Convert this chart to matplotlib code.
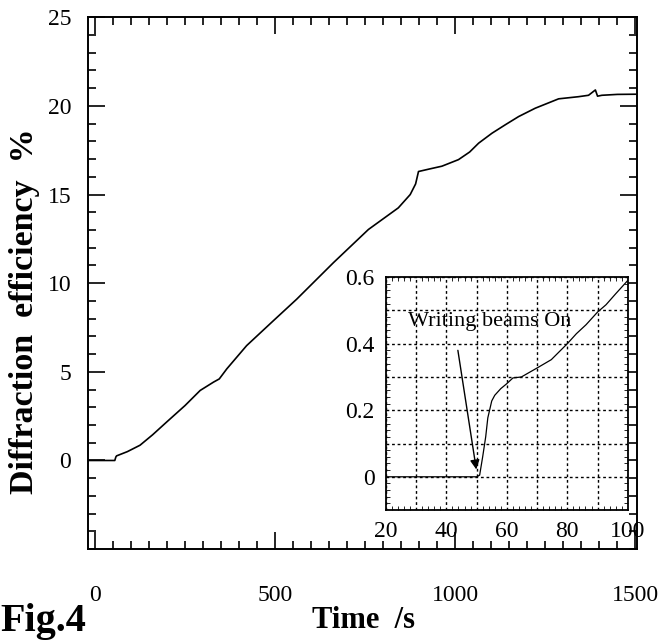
import matplotlib
matplotlib.use("Agg")
import matplotlib.pyplot as plt
from matplotlib.ticker import MultipleLocator

plt.rcParams['font.family'] = ['Liberation Serif', 'DejaVu Serif']

# main curve: time (s) vs diffraction efficiency (%)
t_main = [-20, 55, 58, 60, 90, 125, 160, 199, 250, 292, 329, 345, 366, 421, 495,
          560, 662, 759, 842, 875, 890, 898, 930, 963, 1009, 1040, 1065, 1102,
          1140, 1176, 1222, 1287, 1342, 1370, 1389, 1395, 1407, 1450, 1500]
eff_main = [0, 0, 0.2, 0.26, 0.5, 0.86, 1.45, 2.17, 3.1, 3.95, 4.42, 4.6, 5.17, 6.48, 7.88,
            9.1, 11.16, 13.03, 14.25, 15.0, 15.6, 16.3, 16.45, 16.6, 16.97, 17.4, 17.9, 18.46,
            18.95, 19.4, 19.87, 20.4, 20.52, 20.6, 20.9, 20.55, 20.6, 20.65, 20.66]

# inset: first 100 s
t_inset = [20, 50, 51, 52, 53, 53.7, 55, 56, 58, 60, 62, 64.8, 70, 74.7, 80, 83, 86.2,
           90, 92.8, 96, 100]
eff_inset = [0, 0, 0.005, 0.06, 0.12, 0.177, 0.228, 0.245, 0.265, 0.28, 0.297, 0.30, 0.327,
             0.352, 0.40, 0.43, 0.457, 0.495, 0.517, 0.55, 0.59]

fig = plt.figure(figsize=(6.7, 6.4), dpi=100)
ax = fig.add_axes([0.131, 0.142, 0.820, 0.831])
ax.plot(t_main, eff_main, color='black', lw=1.2)
ax.set_xlim(-20, 1505)
ax.set_ylim(-5, 25)
ax.xaxis.set_major_locator(MultipleLocator(500))
ax.xaxis.set_minor_locator(MultipleLocator(50))
ax.yaxis.set_major_locator(MultipleLocator(5))
ax.yaxis.set_minor_locator(MultipleLocator(1))
ax.tick_params(which='both', direction='in', top=True, right=True, width=1.2, labelsize=17)
ax.tick_params(which='major', length=12)
ax.tick_params(which='minor', length=6)
ax.tick_params(axis='x', pad=26)
ax.tick_params(axis='y', pad=12)
ax.set_yticks([0, 5, 10, 15, 20, 25])
for s in ax.spines.values():
    s.set_linewidth(1.4)

fig.text(0.037, 0.514, "Diffraction  efficiency  %", rotation=90, fontsize=24.5,
         fontweight='bold', ha='center', va='center')
fig.text(0.543, 0.008, "Time  /s", fontsize=22, fontweight='bold', ha='center', va='bottom')
fig.text(0.0, 0.0, "Fig.4", fontsize=29, fontweight='bold', ha='left', va='bottom')

ins = fig.add_axes([0.576, 0.203, 0.361, 0.364])
ins.plot(t_inset, eff_inset, color='black', lw=0.9)
ins.set_xlim(20, 100)
ins.set_ylim(-0.1, 0.6)
ins.xaxis.set_minor_locator(MultipleLocator(2))
ins.yaxis.set_minor_locator(MultipleLocator(0.02))
ins.set_xticks(range(20, 101, 10))
ins.set_xticklabels(['20', '', '40', '', '60', '', '80', '', '100'])
ins.set_yticks([i / 10 for i in range(-1, 7)])
ins.set_yticklabels(['', '0', '', '0.2', '', '0.4', '', '0.6'])
ins.grid(True, which='major', linestyle=(0, (2, 2)), color='black', lw=1.0)
ins.tick_params(which='both', direction='in', top=True, right=True, labelsize=17)
ins.tick_params(which='major', length=0)
ins.tick_params(which='minor', length=3)
ins.tick_params(axis='x', pad=8)
ins.tick_params(axis='y', pad=8)
for s in ins.spines.values():
    s.set_linewidth(1.3)

ins.text(54.3, 0.468, "Writing beams On", fontsize=16, ha='center', va='center')
ins.annotate("", xy=(49.9, 0.022), xytext=(43.8, 0.38),
             arrowprops=dict(arrowstyle='-|>', color='black', lw=1.0,
                             shrinkA=0, shrinkB=0, mutation_scale=14))

fig.savefig("out.png", dpi=100)
